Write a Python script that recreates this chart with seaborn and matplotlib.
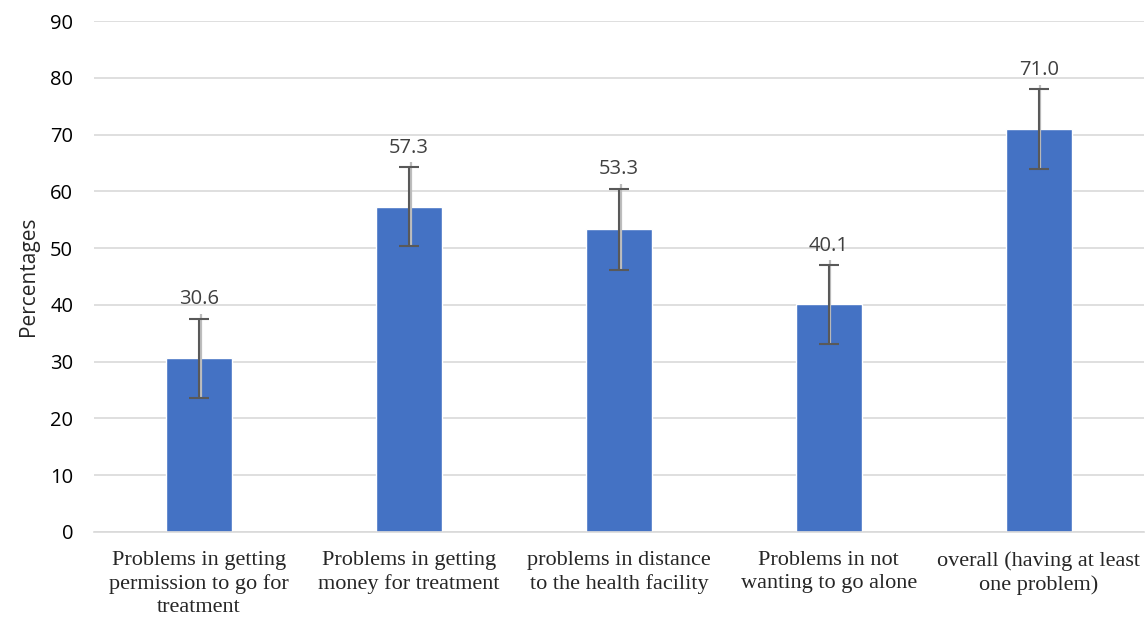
import matplotlib
matplotlib.use("Agg")
import matplotlib.pyplot as plt
import seaborn as sns
import numpy as np
import pandas as pd

categories = [
    "Problems in getting\npermission to go for\ntreatment",
    "Problems in getting\nmoney for treatment",
    "problems in distance\nto the health facility",
    "Problems in not\nwanting to go alone",
    "overall (having at least\none problem)",
]
values = [30.6, 57.3, 53.3, 40.1, 71.0]
errors = [7.0, 7.0, 7.2, 7.0, 7.0]
yticks = [0, 10, 20, 30, 40, 50, 60, 70, 80, 90]

sns.set_theme(style="white")
plt.rcParams["font.family"] = ["Open Sans", "DejaVu Sans"]

df = pd.DataFrame({"cat": categories, "val": values})

fig = plt.figure(figsize=(11.46, 6.2), dpi=100)
ax = fig.add_axes([0.082, 0.142, 0.916, 0.824])

sns.barplot(data=df, x="cat", y="val", color="#4472C4", width=0.314,
            saturation=1, ax=ax, zorder=2)
xpos = np.arange(len(values))
err_up = [e + 0.8 for e in errors]
# faint secondary whisker (as in the original rendering)
ax.errorbar(xpos + 0.008, values, yerr=[errors, err_up], fmt="none",
            ecolor="#BDBDBD", elinewidth=1.6, capsize=0, zorder=3)
ax.errorbar(xpos, values, yerr=errors, fmt="none",
            ecolor="#595959", elinewidth=1.5, capsize=7, capthick=1.5, zorder=4)

for i, v in enumerate(values):
    ax.text(i, v + errors[i] + 1.6, f"{v:.1f}", ha="center", va="bottom",
            fontsize=14.5, color="#404040")

ax.set_ylim(0, 90)
ax.set_yticks(yticks)
ax.set_xlim(-0.5, len(values) - 0.5)
ax.yaxis.grid(True, color="#D9D9D9", linewidth=1.2, zorder=0)
ax.set_axisbelow(True)
for s in ["top", "right", "left"]:
    ax.spines[s].set_visible(False)
ax.spines["bottom"].set_color("#D9D9D9")
ax.spines["bottom"].set_linewidth(1.2)
ax.tick_params(axis="y", length=0, labelsize=14.5, colors="#000000", pad=15)
ax.tick_params(axis="x", length=0, pad=14)
for lbl in ax.get_xticklabels():
    lbl.set_fontfamily("Liberation Serif")
    lbl.set_fontsize(16)
    lbl.set_linespacing(1.25)
ax.set_xlabel("")
ax.set_ylabel("Percentages", fontsize=15, labelpad=8)

fig.savefig("out.png", dpi=100)
